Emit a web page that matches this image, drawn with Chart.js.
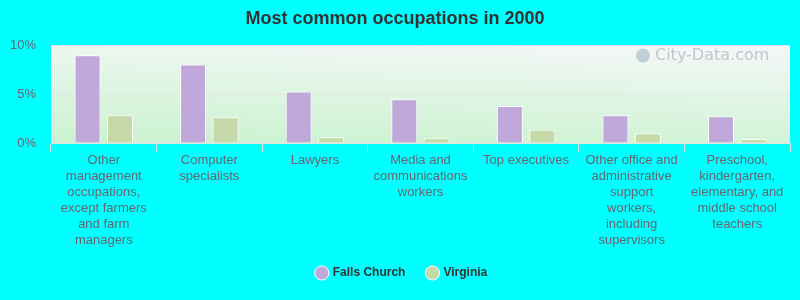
<!DOCTYPE html>
<html>
<head>
<meta charset="utf-8">
<script src="https://cdn.jsdelivr.net/npm/chart.js@4/dist/chart.umd.min.js"></script>
<style>
html,body{margin:0;padding:0;background:#00ffff;}
#wrap{width:800px;height:300px;position:relative;}
</style>
</head>
<body>
<div id="wrap"><canvas id="c" width="800" height="300"></canvas></div>
<script>
const categories = [
  ["Other","management","occupations,","except farmers","and farm","managers"],
  ["Computer","specialists"],
  ["Lawyers"],
  ["Media and","communications","workers"],
  ["Top executives"],
  ["Other office and","administrative","support","workers,","including","supervisors"],
  ["Preschool,","kindergarten,","elementary, and","middle school","teachers"]
];
const fallsChurch = [9.0, 8.05, 5.3, 4.5, 3.8, 2.85, 2.75];
const virginia = [2.85, 2.65, 0.6, 0.5, 1.35, 1.0, 0.4];
const yTicks = [0, 5, 10];
const seriesNames = ["Falls Church", "Virginia"];

const bgPlugin = {
  id: 'bgPlugin',
  afterLayout(chart) {
    const l = chart.legend;
    if (l) { l.left += 7; l.right += 7; l.top -= 11; l.bottom -= 11; }
  },
  beforeDraw(chart) {
    const {ctx, chartArea: a} = chart;
    const g = ctx.createLinearGradient(a.left, a.bottom, a.left + 4, a.bottom - 122.5);
    g.addColorStop(0, '#caf2cf');
    g.addColorStop(0.5, '#dff5e3');
    g.addColorStop(0.8, '#edf6f0');
    g.addColorStop(1, '#f6f7fb');
    ctx.save();
    ctx.fillStyle = g;
    ctx.fillRect(a.left, a.top, a.right - a.left, a.bottom - a.top);
    ctx.font = '16px "DejaVu Sans", sans-serif';
    ctx.fillStyle = 'rgba(160,168,176,0.6)';
    ctx.textAlign = 'left';
    ctx.textBaseline = 'middle';
    ctx.fillText('City-Data.com', a.left + 604, a.top + 10);
    ctx.beginPath();
    ctx.arc(a.left + 592, a.top + 10, 7, 0, Math.PI * 2);
    ctx.fillStyle = 'rgba(150,178,190,0.55)';
    ctx.fill();
    ctx.restore();
  }
};

new Chart(document.getElementById('c'), {
  type: 'bar',
  data: {
    labels: categories,
    datasets: [
      { label: seriesNames[0], data: fallsChurch, backgroundColor: '#c0a8da', borderColor: '#ffffff', borderWidth: 1, borderSkipped: 'bottom' },
      { label: seriesNames[1], data: virginia, backgroundColor: '#c6daa9', borderColor: '#ffffff', borderWidth: 1, borderSkipped: 'bottom' }
    ]
  },
  options: {
    responsive: false,
    animation: false,
    devicePixelRatio: 1,
    categoryPercentage: 0.615,
    barPercentage: 0.8,
    layout: { padding: { left: 0, right: 10, top: 0, bottom: 0 } },
    plugins: {
      title: {
        display: true,
        text: 'Most common occupations in 2000',
        color: '#333333',
        font: { family: 'Arial, "Liberation Sans", sans-serif', size: 18, weight: 'bold' },
        padding: { top: 8, bottom: 16 }
      },
      legend: {
        position: 'bottom',
        labels: {
          usePointStyle: true,
          pointStyle: 'circle',
          boxWidth: 10,
          boxHeight: 10,
          padding: 22,
          color: '#333333',
          font: { family: 'Arial, "Liberation Sans", sans-serif', size: 12, weight: 'bold' }
        }
      },
      tooltip: { enabled: false }
    },
    scales: {
      x: {
        grid: { display: true, drawOnChartArea: false, color: '#dddddd', tickLength: 9, offset: true },
        border: { display: true, color: '#e4e4e4' },
        ticks: {
          color: '#666670',
          maxRotation: 0,
          autoSkip: false,
          padding: 0,
          font: { family: 'Arial, "Liberation Sans", sans-serif', size: 13, lineHeight: 1.23 }
        },
        afterFit(s) { s.height = 113; }
      },
      y: {
        min: 0, max: 10,
        afterBuildTicks(s) { s.ticks = yTicks.map(v => ({ value: v })); },
        grid: { color: function(c){ return c.tick.value === 0 ? 'rgba(0,0,0,0)' : '#e2e6e2'; }, drawTicks: false },
        border: { display: false },
        ticks: {
          color: '#666670',
          padding: 15,
          font: { family: 'Arial, "Liberation Sans", sans-serif', size: 13 },
          callback: v => v + '%'
        },
        afterFit(s) { s.width = 51; }
      }
    }
  },
  plugins: [bgPlugin]
});
</script>
</body>
</html>
